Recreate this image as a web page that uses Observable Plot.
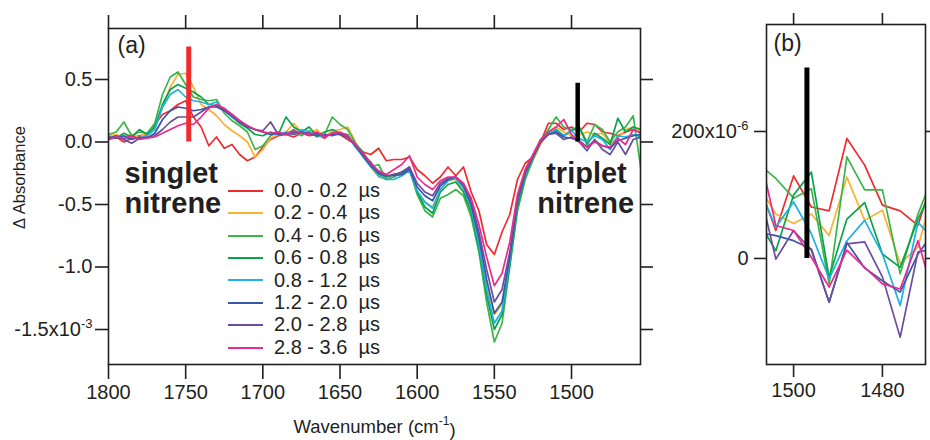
<!DOCTYPE html>
<html><head><meta charset="utf-8">
<script src="https://cdn.jsdelivr.net/npm/d3@7"></script>
<script src="https://cdn.jsdelivr.net/npm/@observablehq/plot@0.6"></script>
<style>
body{margin:0;background:#fff;}
#wrap{position:relative;width:930px;height:440px;font-family:"Liberation Sans",Arial,Helvetica,sans-serif;color:#231f20;}
#wrap svg{position:absolute;top:0;}
#legend{position:absolute;left:228px;top:179px;font-size:20px;line-height:22.4px;white-space:pre;}
#legend .sw{display:inline-block;width:35px;height:2px;vertical-align:middle;margin-right:11px;position:relative;top:-1px;}
</style></head><body><div id="wrap"><div id="legend"></div></div>
<script>
// ---------- data: panel (a), ΔAbsorbance in units of 1e-3 ----------
const wavenumbers = [1800,1795,1790,1785,1780,1775,1770,1765,1760,1755,
 1750,1745,1740,1735,1730,1725,1720,1715,1710,1705,
 1700,1695,1690,1685,1680,1675,1670,1665,1660,1655,
 1650,1645,1640,1635,1630,1625,1620,1615,1610,1605,
 1600,1595,1590,1585,1580,1575,1570,1565,1560,1555,
 1550,1545,1540,1535,1530,1525,1520,1515,1510,1505,
 1500,1495,1490,1485,1480,1475,1470,1465,1460,1455];

const s00_02 = [0.02,0.04,0.0,0.03,0.05,0.06,0.14,0.22,0.25,0.3,
 0.33,0.2,0.12,-0.03,0.04,-0.05,-0.02,-0.1,-0.15,-0.12,
 -0.04,0.02,0.05,0.06,0.04,0.07,0.05,0.06,0.03,0.08,
 0.06,0.02,-0.02,-0.08,-0.1,-0.05,-0.15,-0.14,-0.14,-0.12,
 -0.22,-0.27,-0.33,-0.28,-0.2,-0.27,-0.2,-0.4,-0.55,-0.82,
 -0.9,-0.72,-0.58,-0.3,-0.17,-0.12,0.0,0.15,0.15,0.1,
 0.12,0.08,0.15,0.14,0.08,0.07,0.05,0.08,0.1,0.08];
const s02_04 = [0.05,0.06,0.04,0.06,0.04,0.07,0.12,0.28,0.44,0.54,
 0.55,0.44,0.3,0.26,0.21,0.14,0.09,0.05,0.0,-0.12,
 -0.06,0.03,0.06,0.08,0.15,0.08,0.06,0.1,0.04,0.09,
 0.1,0.12,0.0,-0.12,-0.2,-0.28,-0.3,-0.25,-0.27,-0.22,
 -0.4,-0.48,-0.52,-0.38,-0.31,-0.3,-0.4,-0.55,-0.8,-1.15,
 -1.38,-1.3,-0.95,-0.5,-0.28,-0.15,-0.02,0.08,0.12,0.08,
 0.05,0.06,0.08,0.06,0.07,-0.01,0.03,0.1,0.12,0.08];
const s04_06 = [0.06,0.08,0.16,0.05,0.08,0.07,0.15,0.38,0.52,0.56,
 0.46,0.36,0.34,0.33,0.34,0.23,0.17,0.13,0.08,-0.06,
 -0.03,0.05,0.08,0.06,0.1,0.05,0.09,0.04,0.06,0.2,
 0.14,0.1,-0.01,-0.08,-0.2,-0.18,-0.3,-0.28,-0.24,-0.22,
 -0.42,-0.55,-0.6,-0.45,-0.42,-0.38,-0.43,-0.6,-0.88,-1.28,
 -1.6,-1.45,-1.0,-0.55,-0.3,-0.14,0.0,0.1,0.2,0.12,
 0.1,0.12,0.0,0.14,0.1,0.0,0.08,0.12,0.21,-0.22];
const s06_08 = [0.04,0.03,0.07,0.04,0.1,0.06,0.12,0.3,0.42,0.46,
 0.43,0.4,0.36,0.3,0.29,0.26,0.2,0.15,0.11,0.06,
 0.05,0.08,0.06,0.2,0.12,0.08,0.12,0.05,0.08,0.1,
 0.07,0.06,-0.04,-0.1,-0.16,-0.26,-0.28,-0.26,-0.25,-0.2,
 -0.4,-0.52,-0.57,-0.4,-0.34,-0.32,-0.4,-0.56,-0.85,-1.22,
 -1.5,-1.38,-0.98,-0.52,-0.27,-0.12,0.02,0.06,0.1,0.05,
 0.09,0.12,-0.02,0.07,0.03,-0.02,0.19,0.08,0.12,0.1];
const s08_12 = [0.03,0.05,0.02,0.04,0.03,0.05,0.1,0.28,0.38,0.42,
 0.36,0.33,0.32,0.3,0.32,0.25,0.2,0.16,0.12,0.1,
 0.08,0.07,0.06,0.08,0.07,0.1,0.08,0.05,0.04,0.07,
 0.06,0.05,-0.04,-0.12,-0.2,-0.27,-0.3,-0.3,-0.27,-0.23,
 -0.39,-0.48,-0.53,-0.38,-0.31,-0.29,-0.37,-0.52,-0.82,-1.18,
 -1.45,-1.35,-0.95,-0.48,-0.26,-0.12,0.0,0.07,0.09,0.05,
 0.09,0.03,0.0,0.05,0.02,-0.06,0.05,0.04,0.06,0.04];
const s12_20 = [0.04,0.03,0.05,0.02,0.04,0.03,0.07,0.18,0.25,0.28,
 0.27,0.25,0.26,0.28,0.28,0.25,0.21,0.16,0.12,0.1,
 0.08,0.06,0.07,0.06,0.08,0.07,0.06,0.07,0.05,0.06,
 0.06,0.04,-0.03,-0.11,-0.19,-0.25,-0.27,-0.27,-0.26,-0.22,
 -0.36,-0.43,-0.47,-0.35,-0.3,-0.28,-0.35,-0.5,-0.76,-1.1,
 -1.37,-1.28,-0.92,-0.47,-0.25,-0.12,0.0,0.06,0.08,0.04,
 0.03,0.01,-0.04,0.01,-0.03,-0.05,0.01,0.03,0.05,0.06];
const s20_28 = [0.03,0.05,0.02,-0.01,0.03,0.04,0.05,0.1,0.16,0.2,
 0.2,0.2,0.24,0.28,0.29,0.26,0.22,0.17,0.13,0.1,
 0.09,0.16,0.06,0.07,0.06,0.08,0.07,0.05,0.06,0.05,
 0.07,0.04,-0.02,-0.1,-0.18,-0.24,-0.27,-0.26,-0.24,-0.2,
 -0.33,-0.4,-0.43,-0.33,-0.29,-0.28,-0.34,-0.47,-0.72,-1.02,
 -1.28,-1.18,-0.88,-0.45,-0.24,-0.11,0.0,0.06,0.07,0.02,
 0.04,0.0,-0.07,0.02,-0.06,-0.1,0.0,-0.1,0.02,0.04];
const s28_36 = [0.02,0.04,0.03,0.05,0.02,0.03,0.04,0.07,0.1,0.13,
 0.15,0.14,0.2,0.27,0.3,0.27,0.22,0.17,0.13,0.1,
 0.08,0.07,0.08,0.06,0.09,0.07,0.06,0.08,0.04,0.07,
 0.08,0.05,-0.02,-0.09,-0.17,-0.23,-0.26,-0.22,-0.18,-0.11,
 -0.28,-0.34,-0.38,-0.31,-0.28,-0.28,-0.33,-0.45,-0.66,-0.92,
 -1.15,-1.05,-0.8,-0.42,-0.22,-0.1,0.02,0.08,0.12,0.18,
 0.06,0.0,-0.04,0.0,-0.03,-0.04,0.03,-0.02,0.1,0.07];

// ---------- data: panel (b), ΔAbsorbance in units of 1e-6 ----------
const wavenumbersB = [1508,1504,1500,1496,1492,1488,1484,1480,1476,1472,1468];
const b00_02 = [120,44,130,81,75,189,147,84,75,52,140];
const b02_04 = [116,70,55,70,36,128,60,76,-8,18,120];
const b04_06 = [150,126,95,110,-40,160,108,108,-24,70,140];
const b06_08 = [60,12,100,136,-30,62,88,7,-14,62,120];
const b08_12 = [115,49,89,39,-32,28,60,7,-74,57,26];
const b12_20 = [41,36,28,15,-69,25,-15,-35,-53,7,45];
const b20_28 = [119,-1,44,13,-69,23,26,-29,-124,10,16];
const b28_36 = [177,52,44,2,-45,13,-14,-40,-48,28,-70];

const seriesLabels = ["0.0 - 0.2  µs","0.2 - 0.4  µs","0.4 - 0.6  µs","0.6 - 0.8  µs",
                      "0.8 - 1.2  µs","1.2 - 2.0  µs","2.0 - 2.8  µs","2.8 - 3.6  µs"];
const seriesColors = ["#ef2b2d","#fbb131","#3bb54a","#0ba24c","#1eb1e3","#3a56a6","#6b4c9e","#ea2b8e"];
const seriesA = [s00_02,s02_04,s04_06,s06_08,s08_12,s12_20,s20_28,s28_36];
const seriesB = [b00_02,b02_04,b04_06,b06_08,b08_12,b12_20,b20_28,b28_36];

// ticks
const xTicksA = [1800,1750,1700,1650,1600,1550,1500];
const yTicksA = [0.5,0.0,-0.5,-1.0,-1.5];
const yTickLabelsA = ["0.5","0.0","-0.5","-1.0","-1.5x10"];
const xTicksB = [1500,1480];
const yTicksB = [200,0];
const yTickLabelsB = ["200x10","0"];

// marker bars and annotations
const singletBar = [{w:1748, v1:0, v2:0.76}];
const tripletBar = [{w:1496, v1:0, v2:0.47}];
const barB = [{w:1497, v1:0, v2:300}];
const singletNote = [{w:1789.6, v:-0.165, text:"singlet"},{w:1789.6, v:-0.405, text:"nitrene"}];
const tripletNote = [{w:1490.3, v:-0.165, text:"triplet"},{w:1490.8, v:-0.405, text:"nitrene"}];

// ---------- build tables ----------
const rowsA = [];
seriesA.forEach((arr,i)=>arr.forEach((v,j)=>rowsA.push({w:wavenumbers[j], v, s:seriesLabels[i]})));
const rowsB = [];
seriesB.forEach((arr,i)=>arr.forEach((v,j)=>rowsB.push({w:wavenumbersB[j], v, s:seriesLabels[i]})));

const font = "'Liberation Sans', Arial, Helvetica, sans-serif";
const ink = "#231f20";
const labA = new Map(yTicksA.map((t,i)=>[t,yTickLabelsA[i]]));
const labB = new Map(yTicksB.map((t,i)=>[t,yTickLabelsB[i]]));

const plotA = Plot.plot({
  width:700, height:440,
  marginLeft:108, marginRight:60, marginTop:28, marginBottom:76,
  style:{fontFamily:font, fontSize:"20px", color:ink, background:"transparent", overflow:"visible"},
  x:{domain:[1800,1455.3]},
  y:{domain:[-1.78,0.908]},
  color:{domain:seriesLabels, range:seriesColors},
  marks:[
    Plot.line(rowsA, {x:"w", y:"v", z:"s", stroke:"s", strokeWidth:1.7, clip:true}),
    Plot.ruleX(singletBar, {x:"w", y1:"v1", y2:"v2", stroke:"#ef2b2d", strokeWidth:5}),
    Plot.ruleX(tripletBar, {x:"w", y1:"v1", y2:"v2", stroke:"#000", strokeWidth:4.5}),
    Plot.frame({stroke:ink, strokeWidth:1.6}),
    Plot.axisX(xTicksA, {anchor:"bottom", tickSize:15, tickPadding:5, strokeWidth:1.6, label:null, tickFormat:d=>String(d)}),
    Plot.axisX(xTicksA, {anchor:"top", tickSize:14, strokeWidth:1.6, label:null, tickFormat:()=>""}),
    Plot.axisY(yTicksA, {anchor:"left", tickSize:13, tickPadding:3, strokeWidth:1.6, label:null, tickFormat:d=>labA.get(d)}),
    Plot.axisY(yTicksA, {anchor:"right", tickSize:12, strokeWidth:1.6, label:null, tickFormat:()=>""}),
    Plot.text(["(a)"], {frameAnchor:"top-left", dx:9, dy:8, lineAnchor:"top", textAnchor:"start", fontSize:23}),
    Plot.text(singletNote, {x:"w", y:"v", text:"text", textAnchor:"start", lineAnchor:"top", fontWeight:"bold", fontSize:29}),
    Plot.text(tripletNote, {x:"w", y:"v", text:"text", textAnchor:"middle", lineAnchor:"top", fontWeight:"bold", fontSize:29}),
    Plot.text(["Δ Absorbance"], {frameAnchor:"left", textAnchor:"middle", lineAnchor:"middle", dx:-89, dy:-19, rotate:-90, fontSize:16.5}),
    Plot.text(["Wavenumber (cm"], {frameAnchor:"bottom", textAnchor:"middle", dy:68, fontSize:18.5})
  ]
});

const plotB = Plot.plot({
  width:230, height:440,
  marginLeft:66, marginRight:5, marginTop:24, marginBottom:76,
  style:{fontFamily:font, fontSize:"20px", color:ink, background:"transparent", overflow:"visible"},
  x:{domain:[1506.1,1470.3]},
  y:{domain:[-167,368.5]},
  color:{domain:seriesLabels, range:seriesColors},
  marks:[
    Plot.line(rowsB, {x:"w", y:"v", z:"s", stroke:"s", strokeWidth:1.7, clip:true}),
    Plot.ruleX(barB, {x:"w", y1:"v1", y2:"v2", stroke:"#000", strokeWidth:5}),
    Plot.frame({stroke:ink, strokeWidth:1.6}),
    Plot.axisX(xTicksB, {anchor:"bottom", tickSize:13, tickPadding:5, strokeWidth:1.6, label:null, tickFormat:d=>String(d)}),
    Plot.axisX(xTicksB, {anchor:"top", tickSize:12, strokeWidth:1.6, label:null, tickFormat:()=>""}),
    Plot.axisY(yTicksB, {anchor:"left", tickSize:12, tickPadding:6, strokeWidth:1.6, label:null, tickFormat:d=>labB.get(d)}),
    Plot.axisY(yTicksB, {anchor:"right", tickSize:8, strokeWidth:1.6, label:null, tickFormat:()=>""}),
    Plot.text(["(b)"], {frameAnchor:"top-left", dx:7, dy:10, lineAnchor:"top", textAnchor:"start", fontSize:23})
  ]
});

plotA.style.left = "0px";
plotB.style.left = "700px";
const wrap = document.getElementById("wrap");
wrap.appendChild(plotA);
wrap.appendChild(plotB);

// superscripts
function sup(svg, base, supText, size, after) {
  d3.select(svg).selectAll("text").each(function(){
    if (this.textContent === base) {
      const t = d3.select(this);
      t.append("tspan").attr("dy","-0.6em").attr("font-size", size).text(supText);
      if (after) t.append("tspan").attr("dy","0.6em").text(after);
    }
  });
}
sup(plotA, "-1.5x10", "-3", "13px");
sup(plotB, "200x10", "-6", "13px");
sup(plotA, "Wavenumber (cm", "-1", "12px", ")");

// legend
const leg = d3.select("#legend");
seriesLabels.forEach((lab,i)=>{
  const row = leg.append("div");
  row.append("span").attr("class","sw").style("background", seriesColors[i]);
  row.append("span").text(lab);
});
</script></body></html>
